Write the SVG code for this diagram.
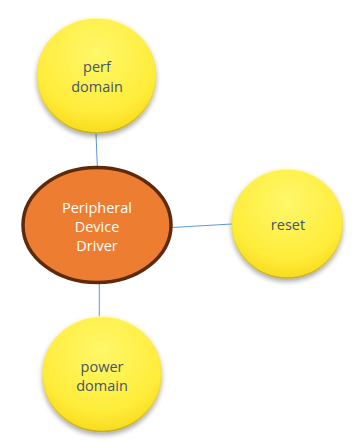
<svg xmlns="http://www.w3.org/2000/svg" width="356" height="448" viewBox="0 0 356 448">
<defs>
<radialGradient id="yel" cx="50%" cy="30%" r="70%">
<stop offset="0" stop-color="#FFF76A"/>
<stop offset="0.75" stop-color="#FFEC3A"/>
<stop offset="1" stop-color="#F7DC1E"/>
</radialGradient>
<linearGradient id="rim" x1="0" y1="0" x2="0" y2="1">
<stop offset="0" stop-color="#FFFFC0" stop-opacity="0.7"/>
<stop offset="0.5" stop-color="#E8D020" stop-opacity="0.3"/>
<stop offset="1" stop-color="#B8A010" stop-opacity="0.7"/>
</linearGradient>
<filter id="sh" x="-20%" y="-20%" width="140%" height="150%">
<feGaussianBlur in="SourceAlpha" stdDeviation="2.5"/>
<feOffset dy="3" result="b"/>
<feComponentTransfer><feFuncA type="linear" slope="0.35"/></feComponentTransfer>
<feMerge><feMergeNode/><feMergeNode in="SourceGraphic"/></feMerge>
</filter>
<style>
.c{fill:url(#yel);stroke:url(#rim);stroke-width:1.5;filter:url(#sh)}
.t{font-family:"Open Sans","Liberation Sans",sans-serif;font-size:14.5px;text-anchor:middle;fill:#44546A}
.w{fill:#FFFFFF}
.ln{stroke:#5B9BD5;stroke-width:1;fill:none}
</style>
</defs>
<rect width="356" height="448" fill="#FFFFFF"/>
<g id="connectors">
<line class="ln" x1="96" y1="134" x2="97.3" y2="166"/>
<line class="ln" x1="172" y1="227.5" x2="232" y2="224"/>
<line class="ln" x1="99.3" y1="284" x2="99.3" y2="317"/>
</g>
<g id="perf">
<ellipse class="c" cx="96.5" cy="75.5" rx="59.5" ry="57.5"/>
<text class="t" x="97" y="72">perf</text>
<text class="t" x="97" y="92">domain</text>
</g>
<g id="driver">
<ellipse cx="97" cy="225" rx="74" ry="57.5" fill="#ED7D31" stroke="#5E2A0C" stroke-width="3.5"/>
<text class="t w" x="97" y="213">Peripheral</text>
<text class="t w" x="97" y="232">Device</text>
<text class="t w" x="97" y="251">Driver</text>
</g>
<g id="reset">
<ellipse class="c" cx="287.2" cy="223.5" rx="55.5" ry="54.5"/>
<text class="t" x="288" y="230">reset</text>
</g>
<g id="power">
<ellipse class="c" cx="102" cy="374" rx="59.5" ry="57.5"/>
<text class="t" x="102" y="372">power</text>
<text class="t" x="102" y="391">domain</text>
</g>
</svg>
